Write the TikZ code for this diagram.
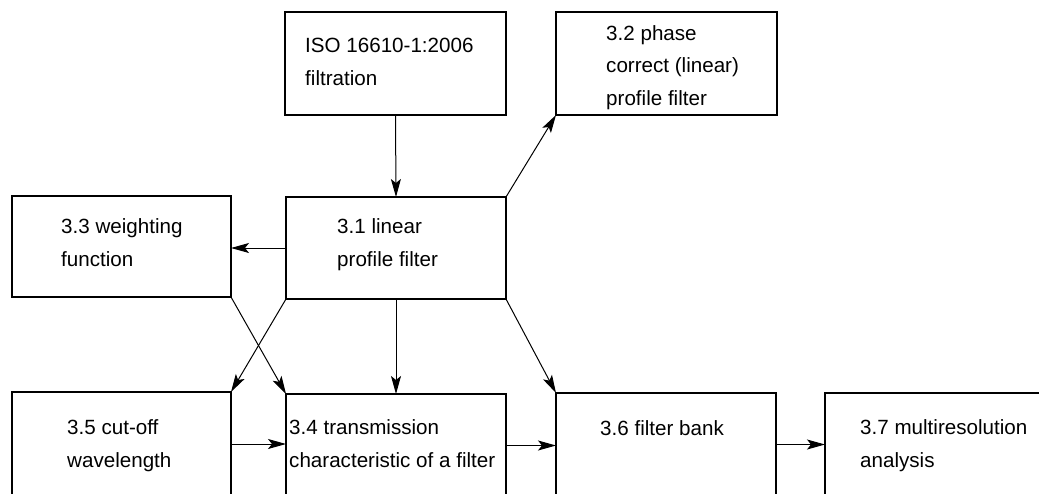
\documentclass[tikz,border=0pt]{standalone}
\usepackage{fontspec}
\setmainfont{Liberation Sans}
\usetikzlibrary{arrows.meta}
\begin{document}
\begin{tikzpicture}[x=1pt,y=-1pt,
  box/.style={draw=black,line width=2.5pt,inner sep=0pt,outer sep=0pt,minimum width=#1},
  lbl/.style={anchor=base west,inner sep=0pt,align=left,font=\fontsize{20.6}{32.5}\selectfont},
  conn/.style={draw=black,line width=1pt,-{Stealth[length=18pt,width=10pt,inset=4pt]}}]
\useasboundingbox (0,0) rectangle (1039,493);
\clip (0,0) rectangle (1039,493);
\fill[white] (0,0) rectangle (1039,493);
% boxes
\node[box=221pt,minimum height=103pt] (iso) at (395.5,63.5) {};
\node[box=221pt,minimum height=103pt] (n32) at (666.5,63.5) {};
\node[box=219pt,minimum height=101pt] (n33) at (121.5,246.5) {};
\node[box=220pt,minimum height=102pt] (n31) at (396,248) {};
\node[box=219pt,minimum height=104pt] (n35) at (121.5,444) {};
\node[box=220pt,minimum height=103pt] (n34) at (396,445.5) {};
\node[box=220pt,minimum height=103pt] (n36) at (666,444.5) {};
\node[box=220pt,minimum height=103pt] (n37) at (935,444.5) {};
% labels (anchored at the baseline of the last line)
\node[lbl] (tiso) at (305,85) {ISO 16610-1:2006\\filtration};
\node[lbl] (t32) at (606,105) {3.2 phase\\correct (linear)\\profile filter};
\node[lbl] (t33) at (61,266) {3.3 weighting\\function};
\node[lbl] (t31) at (337,266) {3.1 linear\\profile filter};
\node[lbl] (t35) at (67,467) {3.5 cut-off\\wavelength};
\node[lbl] (t34) at (289,467) {3.4 transmission\\characteristic of a filter};
\node[lbl] (t36) at (600,435) {3.6 filter bank};
\node[lbl] (t37) at (860,467) {3.7 multiresolution\\analysis};
% connectors
\draw[conn] (iso.south) -- (n31.north);
\draw[conn] (n31.north east) -- (n32.south west);
\draw[conn] (n31.west) -- (n31.west -| n33.east);
\draw[conn] (n31.south west) -- (n35.north east);
\draw[conn] (n33.south east) -- (n34.north west);
\draw[conn] (n31.south) -- (n34.north);
\draw[conn] (n31.south east) -- (n36.north west);
\draw[conn] (n35.east) -- (n35.east -| n34.west);
\draw[conn] (n34.east) -- (n34.east -| n36.west);
\draw[conn] (n36.east) -- (n36.east -| n37.west);
\end{tikzpicture}
\end{document}
